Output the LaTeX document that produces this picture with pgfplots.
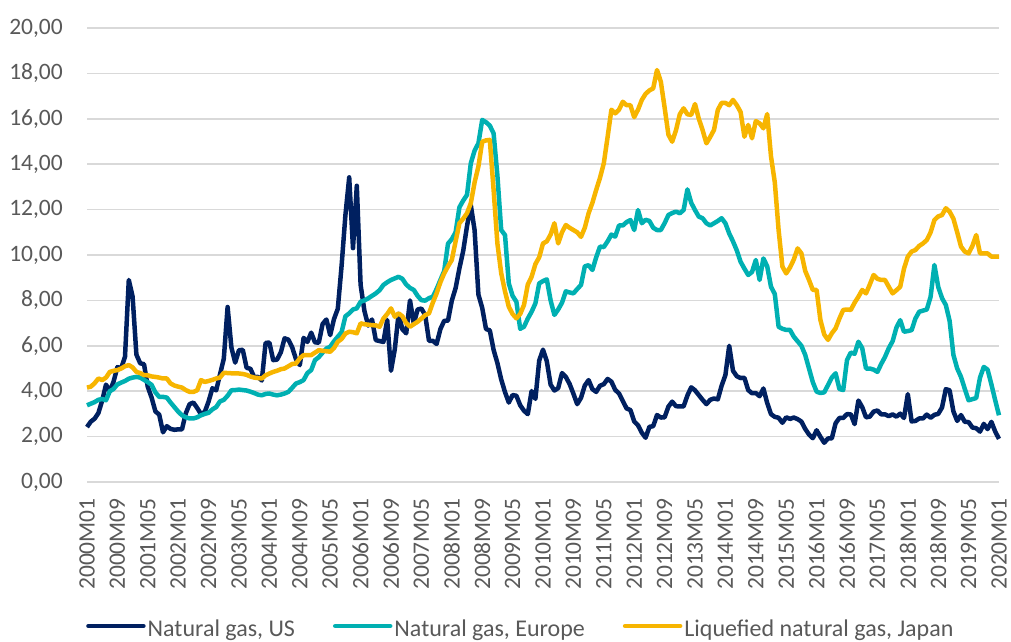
\documentclass[border=0pt]{standalone}
\usepackage{fontspec}
\setmainfont{Carlito}
\usepackage{pgfplots}
\usepackage{pgfplotstable}
\pgfplotsset{compat=1.18}
\definecolor{usc}{RGB}{0,32,96}
\definecolor{euc}{RGB}{0,176,178}
\definecolor{jpc}{RGB}{247,181,0}
\definecolor{txt}{RGB}{89,89,89}
\definecolor{grd}{RGB}{217,217,217}
\pgfplotstableread{
i us eu jp
0 2.42 3.38 4.16
1 2.66 3.45 4.20
2 2.79 3.52 4.35
3 3.04 3.62 4.56
4 3.59 3.66 4.49
5 4.29 3.60 4.60
6 3.99 4.00 4.85
7 4.43 4.10 4.90
8 5.06 4.30 4.93
9 5.02 4.38 5.00
10 5.52 4.45 5.10
11 8.90 4.55 5.15
12 8.17 4.60 5.05
13 5.61 4.63 4.85
14 5.23 4.60 4.80
15 5.19 4.50 4.71
16 4.19 4.40 4.70
17 3.72 4.28 4.65
18 3.11 3.95 4.63
19 2.97 3.75 4.60
20 2.19 3.75 4.56
21 2.46 3.72 4.56
22 2.34 3.50 4.34
23 2.30 3.30 4.25
24 2.32 3.10 4.20
25 2.32 2.94 4.16
26 3.03 2.85 4.05
27 3.43 2.80 3.97
28 3.50 2.80 3.97
29 3.26 2.85 4.04
30 2.99 2.94 4.49
31 3.09 3.00 4.41
32 3.55 3.05 4.45
33 4.13 3.20 4.50
34 4.04 3.30 4.56
35 4.74 3.55 4.60
36 5.43 3.62 4.81
37 7.71 3.80 4.80
38 5.93 4.04 4.79
39 5.26 4.05 4.78
40 5.81 4.07 4.78
41 5.82 4.05 4.76
42 5.03 4.03 4.72
43 4.99 3.98 4.65
44 4.62 3.92 4.60
45 4.63 3.85 4.58
46 4.47 3.82 4.56
47 6.13 3.88 4.70
48 6.14 3.90 4.78
49 5.37 3.85 4.85
50 5.39 3.82 4.90
51 5.71 3.85 4.97
52 6.33 3.90 5.00
53 6.27 3.97 5.10
54 5.93 4.15 5.20
55 5.41 4.34 5.22
56 5.15 4.40 5.45
57 6.35 4.49 5.59
58 6.17 4.80 5.59
59 6.58 4.93 5.59
60 6.15 5.37 5.70
61 6.14 5.50 5.81
62 6.96 5.70 5.78
63 7.16 5.88 5.76
64 6.47 5.96 5.74
65 7.18 6.20 5.90
66 7.63 6.40 6.18
67 9.53 6.60 6.30
68 11.75 7.30 6.54
69 13.42 7.43 6.62
70 10.30 7.60 6.60
71 13.05 7.65 6.55
72 8.69 7.94 6.99
73 7.54 8.00 6.95
74 6.89 8.09 6.93
75 7.16 8.20 6.91
76 6.25 8.31 6.90
77 6.21 8.45 6.84
78 6.17 8.68 7.20
79 7.14 8.80 7.40
80 4.90 8.90 7.65
81 5.85 8.97 7.28
82 7.41 9.04 7.43
83 6.73 8.95 7.30
84 6.55 8.70 7.00
85 8.00 8.55 6.84
86 6.97 8.46 6.95
87 7.60 8.20 7.06
88 7.64 8.01 7.20
89 7.35 7.99 7.35
90 6.22 8.10 7.43
91 6.22 8.16 7.90
92 6.08 8.50 8.31
93 6.74 8.90 8.80
94 7.10 9.30 9.19
95 7.11 10.50 9.50
96 7.99 10.70 9.78
97 8.54 11.00 10.60
98 9.41 12.10 11.40
99 10.18 12.40 11.60
100 11.27 12.65 11.84
101 12.20 14.04 12.28
102 11.09 14.60 13.20
103 8.26 14.92 13.90
104 7.67 15.95 14.99
105 6.74 15.85 15.05
106 6.68 15.70 15.07
107 5.82 15.36 12.87
108 5.24 13.50 10.51
109 4.52 11.10 9.20
110 3.96 10.88 8.40
111 3.50 8.75 7.72
112 3.83 8.20 7.40
113 3.80 7.94 7.21
114 3.38 6.75 7.40
115 3.14 6.84 7.80
116 2.99 7.20 8.70
117 4.01 7.50 9.04
118 3.66 7.87 9.60
119 5.35 8.75 9.90
120 5.83 8.85 10.51
121 5.32 8.93 10.60
122 4.29 8.00 10.90
123 4.03 7.36 11.40
124 4.14 7.60 10.51
125 4.80 7.90 11.00
126 4.63 8.40 11.32
127 4.32 8.35 11.20
128 3.89 8.31 11.10
129 3.43 8.50 11.00
130 3.71 8.68 10.80
131 4.25 9.50 11.20
132 4.49 9.55 11.84
133 4.09 9.34 12.30
134 3.97 9.90 12.87
135 4.24 10.37 13.40
136 4.31 10.35 14.04
137 4.54 10.60 15.20
138 4.42 10.90 16.40
139 4.06 10.81 16.24
140 3.90 11.30 16.40
141 3.57 11.30 16.75
142 3.24 11.45 16.60
143 3.17 11.54 16.60
144 2.67 11.10 16.07
145 2.50 11.98 16.40
146 2.17 11.40 16.83
147 1.95 11.55 17.10
148 2.43 11.50 17.25
149 2.46 11.20 17.34
150 2.95 11.10 18.15
151 2.84 11.10 17.64
152 2.85 11.40 16.50
153 3.32 11.76 15.30
154 3.54 11.85 14.99
155 3.34 11.91 15.50
156 3.33 11.84 16.20
157 3.33 11.98 16.46
158 3.81 12.89 16.20
159 4.17 12.30 16.17
160 4.04 11.98 16.65
161 3.83 11.69 16.00
162 3.62 11.62 15.50
163 3.43 11.40 14.92
164 3.62 11.30 15.20
165 3.68 11.40 15.51
166 3.64 11.50 16.39
167 4.24 11.62 16.70
168 4.71 11.40 16.70
169 6.00 10.95 16.60
170 4.90 10.60 16.83
171 4.66 10.20 16.60
172 4.58 9.70 16.30
173 4.59 9.40 15.21
174 4.05 9.12 15.73
175 3.91 9.25 15.14
176 3.92 9.78 15.90
177 3.78 8.90 15.80
178 4.12 9.85 15.58
179 3.48 9.50 16.21
180 2.99 8.60 14.34
181 2.87 8.28 13.20
182 2.83 6.84 11.10
183 2.61 6.75 9.49
184 2.85 6.70 9.19
185 2.78 6.70 9.45
186 2.84 6.40 9.80
187 2.77 6.20 10.29
188 2.66 6.00 10.07
189 2.34 5.60 9.30
190 2.09 5.00 8.90
191 1.93 4.40 8.46
192 2.28 3.98 8.46
193 1.99 3.92 7.14
194 1.73 3.95 6.50
195 1.92 4.27 6.26
196 1.92 4.60 6.55
197 2.59 4.79 6.77
198 2.82 4.10 7.20
199 2.82 4.05 7.58
200 2.99 5.37 7.60
201 2.98 5.70 7.58
202 2.55 5.65 7.90
203 3.59 6.18 8.16
204 3.30 5.90 8.46
205 2.85 5.00 8.31
206 2.88 5.00 8.70
207 3.10 4.95 9.12
208 3.15 4.85 8.95
209 2.98 5.20 8.90
210 2.98 5.51 8.90
211 2.90 5.90 8.60
212 2.98 6.20 8.31
213 2.88 6.80 8.45
214 3.01 7.13 8.60
215 2.82 6.62 9.40
216 3.87 6.65 9.93
217 2.67 6.69 10.15
218 2.69 7.20 10.22
219 2.80 7.50 10.40
220 2.80 7.55 10.51
221 2.97 7.60 10.66
222 2.83 8.16 11.00
223 2.96 9.56 11.54
224 3.00 8.60 11.70
225 3.28 8.10 11.76
226 4.09 7.80 12.06
227 4.04 7.10 11.91
228 3.11 5.60 11.60
229 2.69 5.00 11.00
230 2.95 4.63 10.37
231 2.65 4.10 10.15
232 2.64 3.60 10.07
233 2.40 3.65 10.40
234 2.37 3.70 10.88
235 2.22 4.60 10.07
236 2.56 5.07 10.07
237 2.33 4.95 10.07
238 2.65 4.30 9.93
239 2.22 3.60 9.93
240 1.90 2.94 9.93
}\gasdata
\begin{document}
\begin{tikzpicture}
\path[use as bounding box] (0,0) rectangle (1011pt,641pt);
\begin{axis}[
  at={(87pt,159pt)}, anchor=south west,
  scale only axis, width=912pt, height=454pt,
  xmin=0, xmax=240, ymin=0, ymax=20,
  clip=false,
  axis line style={draw=none},
  major tick length=0pt,
  ymajorgrids, grid style={grd, line width=1.5pt},
  ytick={0,2,...,20},
  yticklabels={{0,00},{2,00},{4,00},{6,00},{8,00},{10,00},{12,00},{14,00},{16,00},{18,00},{20,00}},
  xtick={0,8,...,240},
  xticklabels={2000M01,2000M09,2001M05,2002M01,2002M09,2003M05,2004M01,2004M09,2005M05,2006M01,2006M09,2007M05,2008M01,2008M09,2009M05,2010M01,2010M09,2011M05,2012M01,2012M09,2013M05,2014M01,2014M09,2015M05,2016M01,2016M09,2017M05,2018M01,2018M09,2019M05,2020M01},
  yticklabel style={anchor=east, inner sep=0pt, xshift=-24pt, font=\fontsize{23.5}{28}\selectfont, text=txt},
  xticklabel style={yshift=-16pt, rotate=90, anchor=east, inner sep=0pt, font=\fontsize{23.5}{28}\selectfont, text=txt},
  legend style={at={(0,0)}, anchor=west, xshift=-1pt, yshift=-147pt, draw=none, fill=none, inner sep=0pt,
    font=\fontsize{24}{28}\selectfont, text=txt, nodes={inner sep=2pt},
    /tikz/every even column/.append style={column sep=36pt}},
  legend columns=3,
  legend image code/.code={\draw[#1, line width=4.5pt, line cap=round] (0pt,0.3em) -- (55pt,0.3em);},
  every axis plot/.append style={line width=4.5pt, line join=round},
]
\addplot[usc, no marks] table[x=i, y=us] {\gasdata};
\addlegendentry{Natural gas, US}
\addplot[euc, no marks] table[x=i, y=eu] {\gasdata};
\addlegendentry{Natural gas, Europe}
\addplot[jpc, no marks] table[x=i, y=jp] {\gasdata};
\addlegendentry{Liquefied natural gas, Japan}
\end{axis}
\end{tikzpicture}
\end{document}
